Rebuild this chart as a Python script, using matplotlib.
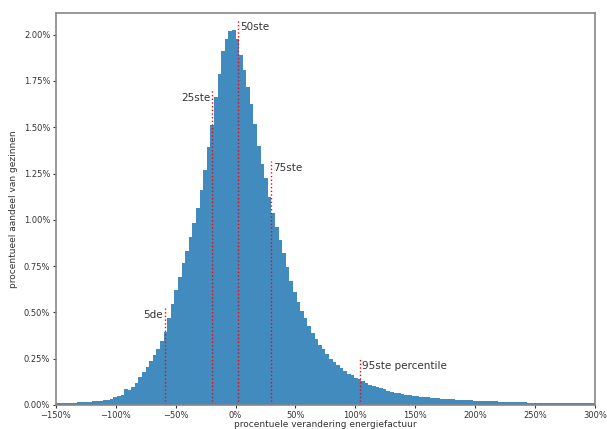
import numpy as np
import matplotlib.pyplot as plt
from matplotlib.ticker import PercentFormatter, MultipleLocator

# histogram: bins of 3 percentage points from -150% to 300%
bin_start = -150
bin_width = 3
share = [
    0.008, 0.009, 0.009, 0.010, 0.011, 0.012, 0.014, 0.015, 0.017, 0.018,
    0.020, 0.022, 0.024, 0.026, 0.029, 0.034, 0.041, 0.047, 0.056, 0.088,
    0.082, 0.097, 0.120, 0.150, 0.178, 0.205, 0.240, 0.270, 0.305, 0.345,
    0.395, 0.470, 0.545, 0.620, 0.690, 0.765, 0.830, 0.905, 0.985, 1.065,
    1.160, 1.270, 1.395, 1.510, 1.665, 1.790, 1.910, 1.975, 2.020, 2.025,
    1.975, 1.890, 1.810, 1.720, 1.625, 1.520, 1.400, 1.300, 1.225, 1.125,
    1.035, 0.960, 0.890, 0.820, 0.745, 0.670, 0.610, 0.555, 0.505, 0.470,
    0.425, 0.390, 0.355, 0.325, 0.300, 0.275, 0.250, 0.232, 0.215, 0.198,
    0.185, 0.170, 0.160, 0.148, 0.138, 0.128, 0.118, 0.110, 0.102, 0.096,
    0.090, 0.084, 0.078, 0.072, 0.067, 0.063, 0.060, 0.056, 0.053, 0.050,
    0.047, 0.045, 0.043, 0.041, 0.039, 0.037, 0.035, 0.034, 0.032, 0.031,
    0.030, 0.029, 0.028, 0.027, 0.026, 0.025, 0.024, 0.023, 0.022, 0.021,
    0.020, 0.019, 0.019, 0.018, 0.017, 0.017, 0.016, 0.015, 0.015, 0.014,
    0.014, 0.013, 0.013, 0.012, 0.012, 0.011, 0.011, 0.011, 0.010, 0.010,
    0.010, 0.009, 0.009, 0.009, 0.009, 0.008, 0.008, 0.008, 0.008, 0.008,
]

# percentiles (x position, top of marker line, label)
pct_labels = ['5de', '25ste', '50ste', '75ste', '95ste percentile']
pct_values = [-59.0, -19.8, 2.0, 29.5, 104.0]
pct_tops = [0.525, 1.70, 2.08, 1.32, 0.25]
pct_align = ['right', 'right', 'left', 'left', 'left']

edges = bin_start + bin_width * np.arange(len(share) + 1)
centers = edges[:-1] + bin_width / 2

fig = plt.figure(figsize=(6.07, 4.29), dpi=100)
ax = fig.add_axes([0.092, 0.056, 0.888, 0.914])

ax.hist(centers, bins=edges, weights=share, color='#1f77b4', alpha=0.85)

for val, top, lab, ha in zip(pct_values, pct_tops, pct_labels, pct_align):
    ax.vlines(val, 0, top, colors='red', linestyles=':', linewidth=1)
    dx = -1.5 if ha == 'right' else 1.5
    ax.text(val + dx, top - 0.04, lab, ha=ha, va='center', fontsize=7.5,
            color='#333333')

ax.set_xlim(-150, 300)
ax.set_ylim(0, 2.118)
ax.xaxis.set_major_locator(MultipleLocator(50))
ax.yaxis.set_major_locator(MultipleLocator(0.25))
ax.xaxis.set_major_formatter(PercentFormatter(100, decimals=0))
ax.yaxis.set_major_formatter(PercentFormatter(100, decimals=2))
ax.tick_params(labelsize=6, colors='#333333', length=2.5, pad=1.5)
for sp in ax.spines.values():
    sp.set_color('#888888')
    sp.set_linewidth(1.2)

ax.set_xlabel('procentuele verandering energiefactuur', fontsize=6.5,
              color='#333333', labelpad=0)
ax.set_ylabel('procentueel aandeel van gezinnen', fontsize=6.5,
              color='#333333', labelpad=4)

fig.savefig('out.png', dpi=100)
